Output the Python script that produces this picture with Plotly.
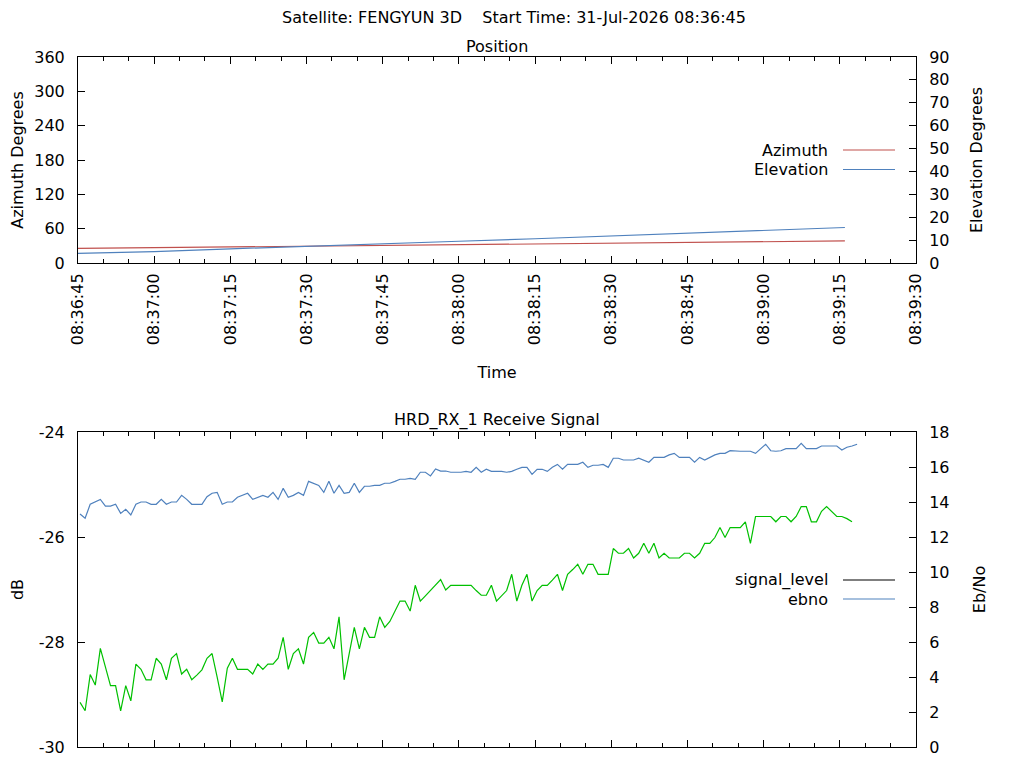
import numpy as np
import pandas as pd
import plotly.graph_objs as go

##### datos #####

titulo = 'Satellite: FENGYUN 3D\u00a0\u00a0\u00a0\u00a0Start Time: 31-Jul-2026 08:36:45'

# posicion (segundos desde el inicio)
pos_sec = [0, 15, 30, 45, 60, 75, 90, 105, 120, 135, 151]
azimuth = [25.4, 26.6, 27.9, 29.1, 30.3, 31.5, 32.7, 33.9, 35.4, 37.1, 38.6]
elevation = [4.2, 5.0, 6.2, 7.2, 8.4, 9.5, 10.6, 11.8, 13.0, 14.4, 15.5]

# señal, una muestra por segundo
signal_level = [
    -29.15, -29.31, -28.62, -28.82, -28.12, -28.48, -28.83, -28.83, -29.31, -28.83,
    -29.12, -28.42, -28.52, -28.72, -28.72, -28.31, -28.42, -28.72, -28.31, -28.22,
    -28.61, -28.52, -28.72, -28.63, -28.53, -28.31, -28.22, -28.67, -29.14, -28.50,
    -28.31, -28.52, -28.52, -28.52, -28.61, -28.42, -28.52, -28.42, -28.42, -28.31,
    -27.91, -28.52, -28.22, -28.13, -28.42, -27.91, -27.82, -28.02, -28.02, -27.91,
    -28.13, -27.52, -28.72, -28.22, -27.72, -28.13, -27.72, -27.91, -27.91, -27.52,
    -27.72, -27.61, -27.42, -27.22, -27.22, -27.41, -26.92, -27.22, -27.12, -27.02,
    -26.91, -26.81, -27.01, -26.92, -26.92, -26.92, -26.92, -26.92, -27.02, -27.11,
    -27.11, -26.92, -27.22, -27.12, -27.02, -26.71, -27.22, -26.92, -26.71, -27.22,
    -27.02, -26.92, -26.92, -26.82, -26.71, -27.02, -26.71, -26.62, -26.52, -26.71,
    -26.52, -26.52, -26.71, -26.71, -26.71, -26.22, -26.31, -26.31, -26.22, -26.40,
    -26.31, -26.12, -26.31, -26.12, -26.40, -26.31, -26.40, -26.40, -26.40, -26.31,
    -26.31, -26.40, -26.31, -26.12, -26.12, -26.01, -25.82, -26.01, -25.82, -25.82,
    -25.82, -25.71, -26.12, -25.61, -25.61, -25.61, -25.61, -25.71, -25.61, -25.61,
    -25.71, -25.61, -25.42, -25.42, -25.71, -25.71, -25.51, -25.42, -25.51, -25.61,
    -25.61, -25.65, -25.71]

ebno = [
    13.31, 13.07, 13.87, 14.00, 14.15, 13.77, 13.77, 13.87, 13.35, 13.58,
    13.26, 13.87, 14.00, 14.00, 13.87, 13.87, 14.15, 13.87, 14.00, 14.00,
    14.38, 14.15, 13.87, 13.87, 13.87, 14.30, 14.50, 14.55, 13.87, 14.00,
    14.00, 14.27, 14.38, 14.50, 14.15, 14.27, 14.38, 14.27, 14.55, 14.15,
    14.78, 14.27, 14.38, 14.55, 14.38, 15.18, 15.07, 14.95, 14.55, 15.18,
    14.50, 14.95, 14.50, 14.55, 15.07, 14.55, 14.90, 14.90, 14.95, 14.95,
    15.07, 15.07, 15.18, 15.30, 15.30, 15.35, 15.30, 15.70, 15.70, 15.49,
    15.89, 15.77, 15.77, 15.70, 15.70, 15.70, 15.75, 15.70, 15.98, 15.70,
    15.87, 15.75, 15.75, 15.75, 15.70, 15.75, 15.87, 15.98, 15.98, 15.58,
    15.87, 15.87, 15.75, 15.98, 16.15, 15.87, 16.15, 16.15, 16.15, 16.27,
    15.98, 16.10, 16.10, 16.15, 15.98, 16.50, 16.50, 16.40, 16.40, 16.40,
    16.50, 16.40, 16.27, 16.55, 16.55, 16.55, 16.69, 16.78, 16.55, 16.55,
    16.55, 16.27, 16.55, 16.40, 16.55, 16.69, 16.78, 16.78, 16.93, 16.90,
    16.90, 16.90, 16.90, 16.78, 17.05, 17.30, 16.93, 16.90, 16.93, 17.05,
    17.05, 17.05, 17.35, 17.05, 17.05, 17.05, 17.20, 17.20, 17.20, 17.20,
    16.97, 17.13, 17.20, 17.30]

# etiquetas del eje dB con guion normal, como en el original
db_ticks = [-30, -28, -26, -24]
db_labels = ['-30', '-28', '-26', '-24']

inicio = pd.Timestamp('2026-07-31 08:36:45')
fin = pd.Timestamp('2026-07-31 08:39:30')

pos_time = inicio + pd.to_timedelta(pos_sec, unit='s')
sig_time = inicio + pd.Timedelta(seconds=0.4) + pd.to_timedelta(np.arange(len(signal_level)), unit='s')
ebno_time = inicio + pd.Timedelta(seconds=0.4) + pd.to_timedelta(np.arange(len(ebno)), unit='s')

rojo = '#c0504d'
azul = '#4f81bd'
verde = '#00c000'
fuente = dict(family='DejaVu Sans', size=16, color='black')

# la pagina tiene 8px de margen en el body, se compensa aqui
off = 8

##### grafico #####

fig = go.Figure()
fig.add_trace(go.Scatter(x=pos_time, y=azimuth, mode='lines', line=dict(color=rojo, width=1.2),
                         xaxis='x', yaxis='y', name='Azimuth'))
fig.add_trace(go.Scatter(x=pos_time, y=elevation, mode='lines', line=dict(color=azul, width=1.2),
                         xaxis='x', yaxis='y2', name='Elevation'))
fig.add_trace(go.Scatter(x=sig_time, y=signal_level, mode='lines', line=dict(color=verde, width=1.2),
                         xaxis='x2', yaxis='y3', name='signal_level'))
fig.add_trace(go.Scatter(x=ebno_time, y=ebno, mode='lines', line=dict(color=azul, width=1.2),
                         xaxis='x2', yaxis='y4', name='ebno'))

eje_x = dict(type='date', range=[inicio, fin], tick0=inicio, dtick=15000, tickformat='%H:%M:%S',
             ticks='inside', ticklen=7, tickcolor='black', showline=True, linecolor='black',
             mirror='ticks', showgrid=False, zeroline=False, tickangle=-90, tickfont=fuente,
             ticklabelstandoff=3, automargin=False,
             minor=dict(dtick=5000, tick0=inicio, ticks='inside', ticklen=4, tickcolor='black'))

eje_y = dict(ticks='inside', ticklen=7, tickcolor='black', showline=True, linecolor='black',
             showgrid=False, zeroline=False, tickfont=fuente, ticklabelstandoff=9,
             automargin=False)

arriba = [(747 - 263) / 690, 1]
abajo = [0, (747 - 432) / 690]

fig.update_layout(
    width=1024, height=768,
    margin=dict(l=78 - off, r=108 + off, t=57 - off, b=21 + off),
    paper_bgcolor='white', plot_bgcolor='white',
    font=fuente, showlegend=False,
    title=dict(text=titulo, x=(514 - off) / 1024, xref='container', xanchor='center',
               y=1 - (17 - off) / 768, yanchor='middle', font=fuente),
    xaxis=dict(eje_x, domain=[0, 1], anchor='y',
               title=dict(text='Time', font=fuente, standoff=22)),
    yaxis=dict(eje_y, domain=arriba, anchor='x', range=[0, 360], dtick=60,
               title=dict(text='Azimuth Degrees', font=fuente, standoff=12)),
    yaxis2=dict(eje_y, overlaying='y', side='right', anchor='x', range=[0, 90], dtick=10,
                title=dict(text='Elevation Degrees', font=fuente, standoff=22)),
    xaxis2=dict(eje_x, domain=[0, 1], anchor='y3', showticklabels=False),
    yaxis3=dict(eje_y, domain=abajo, anchor='x2', range=[-30, -24],
                tickvals=db_ticks, ticktext=db_labels,
                title=dict(text='dB', font=fuente, standoff=17)),
    yaxis4=dict(eje_y, overlaying='y3', side='right', anchor='x2', range=[0, 18], dtick=2,
                title=dict(text='Eb/No', font=fuente, standoff=25)),
)

# titulos de cada panel
fig.add_annotation(text='Position', xref='paper', yref='paper', x=0.5, y=(747 - 46) / 690,
                   showarrow=False, yanchor='middle', font=fuente)
fig.add_annotation(text='HRD_RX_1 Receive Signal', xref='paper', yref='paper', x=0.5,
                   y=(747 - 420) / 690, showarrow=False, yanchor='middle', font=fuente)

# leyendas al estilo gnuplot (texto a la izquierda, muestra de linea a la derecha)
leyenda = [('Azimuth', rojo, 150), ('Elevation', azul, 169.5),
           ('signal_level', 'black', 580), ('ebno', azul, 599)]
for nombre, color, py in leyenda:
    yy = (747 - py) / 690
    fig.add_annotation(text=nombre, xref='paper', yref='paper', x=(830 - 78) / 838, y=yy,
                       xanchor='right', yanchor='middle', showarrow=False, font=fuente)
    fig.add_shape(type='line', xref='paper', yref='paper', x0=(843 - 78) / 838, x1=(895 - 78) / 838,
                  y0=yy, y1=yy, line=dict(color=color, width=1.2))

fig.write_html('out.html')
